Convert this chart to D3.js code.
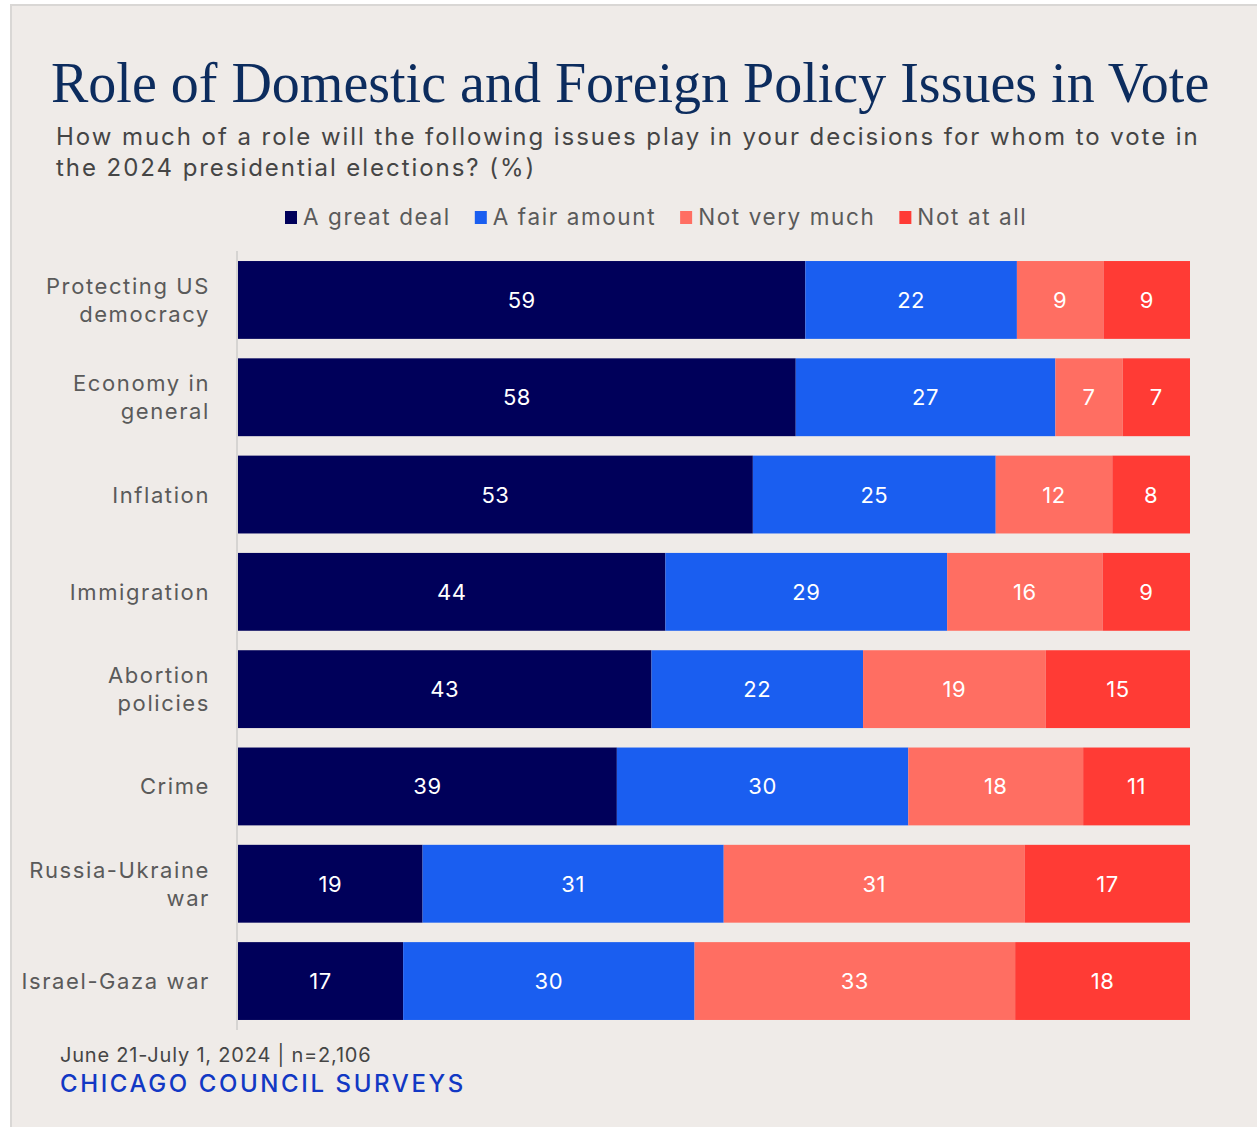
<!DOCTYPE html>
<html>
<head>
<meta charset="utf-8">
<script src="https://cdn.jsdelivr.net/npm/d3@7"></script>
<style>
  html, body { margin: 0; padding: 0; background: #ffffff; }
  svg { display: block; }
</style>
</head>
<body>
<svg id="chart" width="1257" height="1127"></svg>
<script>
// Survey issues, top to bottom
const categories = [
  ["Protecting US", "democracy"],
  ["Economy in", "general"],
  ["Inflation"],
  ["Immigration"],
  ["Abortion", "policies"],
  ["Crime"],
  ["Russia-Ukraine", "war"],
  ["Israel-Gaza war"]
];

// Response series (%), in stacking order
const seriesNames = ["A great deal", "A fair amount", "Not very much", "Not at all"];
const greatDeal   = [59, 58, 53, 44, 43, 39, 19, 17];
const fairAmount  = [22, 27, 25, 29, 22, 30, 31, 30];
const notVeryMuch = [ 9,  7, 12, 16, 19, 18, 31, 33];
const notAtAll    = [ 9,  7,  8,  9, 15, 11, 17, 18];
const seriesColors = ["#00005a", "#1a5ef0", "#ff6e62", "#ff3b35"];

const titleText = "Role of Domestic and Foreign Policy Issues in Vote";
const subtitleLines = [
  "How much of a role will the following issues play in your decisions for whom to vote in",
  "the 2024 presidential elections? (%)"
];
const noteText = "June 21-July 1, 2024 | n=2,106";
const sourceText = "CHICAGO COUNCIL SURVEYS";

const sans = "Inter, 'Noto Sans', sans-serif";
const serif = "'Liberation Serif', 'DejaVu Serif', serif";

const svg = d3.select("#chart");

// Panel background
svg.append("rect")
  .attr("x", 11).attr("y", 5)
  .attr("width", 1300).attr("height", 1200)
  .attr("fill", "#efebe8")
  .attr("stroke", "#d9d7d5")
  .attr("stroke-width", 2);

// Title and subtitle
svg.append("text")
  .attr("x", 51).attr("y", 102)
  .attr("font-family", serif)
  .attr("font-size", 56)
  .attr("fill", "#0c2c5e")
  .text(titleText);

svg.append("g").selectAll("text")
  .data(subtitleLines)
  .join("text")
  .attr("x", 56)
  .attr("y", (d, i) => 145 + i * 31)
  .attr("font-family", sans)
  .attr("font-size", 24)
  .attr("letter-spacing", 1.95)
  .attr("fill", "#454545")
  .text(d => d);

// Legend
const legend = svg.append("g");
let lx = 285;
seriesNames.forEach((name, i) => {
  legend.append("rect")
    .attr("x", lx).attr("y", 211)
    .attr("width", 12).attr("height", 13)
    .attr("fill", seriesColors[i]);
  const t = legend.append("text")
    .attr("x", lx + 18).attr("y", 225)
    .attr("font-family", sans)
    .attr("font-size", 22.5)
    .attr("letter-spacing", 1.6)
    .attr("fill", "#5a5a5a")
    .text(name);
  lx += 18 + t.node().getComputedTextLength() + 24;
});

// Stacked, row-normalised data
const rows = categories.map((c, i) => {
  const vals = [greatDeal[i], fairAmount[i], notVeryMuch[i], notAtAll[i]];
  const total = d3.sum(vals);
  let acc = 0;
  return {
    key: c.join(" "),
    lines: c,
    segs: vals.map((v, k) => {
      const s = { value: v, k, x0: acc / total, x1: (acc + v) / total };
      acc += v;
      return s;
    })
  };
});

const x = d3.scaleLinear().domain([0, 1]).range([238, 1190]);
const y = d3.scaleBand()
  .domain(rows.map(r => r.key))
  .range([251.3, 1029.7])
  .paddingInner(0.2)
  .paddingOuter(0.1);

// Category axis line
svg.append("line")
  .attr("x1", 237).attr("x2", 237)
  .attr("y1", 251).attr("y2", 1030)
  .attr("stroke", "#d6d4d2")
  .attr("stroke-width", 2);

const rowG = svg.append("g").selectAll("g")
  .data(rows)
  .join("g")
  .attr("transform", d => `translate(0,${y(d.key)})`);

rowG.selectAll("rect")
  .data(d => d.segs)
  .join("rect")
  .attr("x", d => x(d.x0))
  .attr("width", d => x(d.x1) - x(d.x0))
  .attr("y", 0)
  .attr("height", y.bandwidth())
  .attr("fill", d => seriesColors[d.k]);

rowG.selectAll("text.val")
  .data(d => d.segs)
  .join("text")
  .attr("class", "val")
  .attr("x", d => (x(d.x0) + x(d.x1)) / 2)
  .attr("y", y.bandwidth() / 2 + 8)
  .attr("text-anchor", "middle")
  .attr("font-family", sans)
  .attr("font-size", 22)
  .attr("letter-spacing", 0.5)
  .attr("fill", "#ffffff")
  .text(d => d.value);

// Category labels
rowG.append("text")
  .attr("text-anchor", "end")
  .attr("font-family", sans)
  .attr("font-size", 22)
  .attr("letter-spacing", 1.6)
  .attr("fill", "#5a5a5a")
  .each(function(d) {
    const n = d.lines.length;
    const cy = y.bandwidth() / 2;
    d3.select(this).selectAll("tspan")
      .data(d.lines)
      .join("tspan")
      .attr("x", 210)
      .attr("y", (l, i) => cy + 8 + (i - (n - 1) / 2) * 28)
      .text(l => l);
  });

// Footer
svg.append("text")
  .attr("x", 60).attr("y", 1062)
  .attr("font-family", sans)
  .attr("font-size", 20)
  .attr("letter-spacing", 0.8)
  .attr("fill", "#454545")
  .text(noteText);

svg.append("text")
  .attr("x", 60).attr("y", 1092)
  .attr("font-family", sans)
  .attr("font-size", 24)
  .attr("font-weight", 500)
  .attr("letter-spacing", 2.6)
  .attr("fill", "#1238c4")
  .text(sourceText);
</script>
</body>
</html>
